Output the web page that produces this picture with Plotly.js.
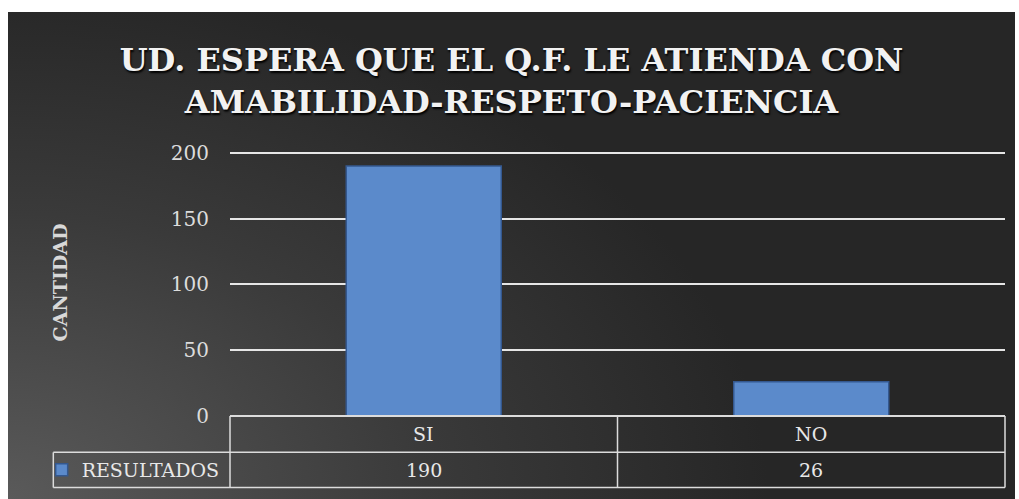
<!DOCTYPE html>
<html>
<head>
<meta charset="utf-8">
<script src="https://cdn.plot.ly/plotly-3.0.1.min.js"></script>
<style>
  html, body { margin: 0; padding: 0; background: #ffffff; }
  #chart {
    position: absolute; left: 8px; top: 12px; width: 1007px; height: 487px;
    background: radial-gradient(ellipse 760px 520px at 0% 100%, #5a5a5a 0%, #3a3a3a 55%, #262626 100%);
  }
</style>
</head>
<body>
<div id="chart"></div>
<script>
const categories = ['SI', 'NO'];
const resultados = [190, 26];
const seriesName = 'RESULTADOS';
const titleLines = ['UD. ESPERA QUE EL Q.F. LE ATIENDA CON', 'AMABILIDAD-RESPETO-PACIENCIA'];
const yAxisTitle = 'CANTIDAD';
const yTickValues = [0, 50, 100, 150, 200];

const FONT = 'DejaVu Serif, Liberation Serif, serif';
const lineColor = '#dcdcdc';

// table geometry (paper coordinates relative to plot area)
const row1Bottom = -0.136;
const row2Bottom = -0.268;
const legendCellLeft = -0.228;

const shapes = [];
const nCat = categories.length;
for (let i = 0; i <= nCat; i++) {
  shapes.push({type: 'line', xref: 'x domain', yref: 'paper', x0: i / nCat, x1: i / nCat,
    y0: 0, y1: row2Bottom, line: {color: lineColor, width: 1.5}});
}
shapes.push({type: 'line', xref: 'paper', yref: 'paper', x0: 0, x1: 1, y0: 0, y1: 0,
  line: {color: lineColor, width: 2}});
shapes.push({type: 'line', xref: 'paper', yref: 'paper', x0: legendCellLeft, x1: 1, y0: row1Bottom, y1: row1Bottom,
  line: {color: lineColor, width: 1.5}});
shapes.push({type: 'line', xref: 'paper', yref: 'paper', x0: legendCellLeft, x1: 1, y0: row2Bottom, y1: row2Bottom,
  line: {color: lineColor, width: 1.5}});
shapes.push({type: 'line', xref: 'paper', yref: 'paper', x0: legendCellLeft, x1: legendCellLeft, y0: row1Bottom, y1: row2Bottom,
  line: {color: lineColor, width: 1.5}});

const annotations = [];
categories.forEach((c, i) => {
  annotations.push({x: c, xref: 'x', y: (0 + row1Bottom) / 2, yref: 'paper', text: c, showarrow: false,
    yanchor: 'middle', font: {family: FONT, size: 19, color: '#e8e8e8'}});
  annotations.push({x: c, xref: 'x', y: (row1Bottom + row2Bottom) / 2, yref: 'paper', text: String(resultados[i]), showarrow: false,
    yanchor: 'middle', font: {family: FONT, size: 19, color: '#e8e8e8'}});
});

const trace = {
  type: 'bar',
  x: categories,
  y: resultados,
  name: seriesName,
  showlegend: true,
  marker: {color: '#5b8acb', line: {color: '#34588f', width: 1.5}},
  hoverinfo: 'x+y'
};

const layout = {
  width: 1007,
  height: 487,
  paper_bgcolor: 'rgba(0,0,0,0)',
  plot_bgcolor: 'rgba(0,0,0,0)',
  margin: {l: 222, r: 10, t: 137, b: 78},
  title: {
    text: titleLines.join('<br>'),
    x: 0.5, xanchor: 'center',
    yref: 'container', y: 0.879, yanchor: 'top',
    font: {family: FONT, size: 32, color: '#f2f2f2', weight: 'bold', shadow: '1px 2px 2px #000000'}
  },
  bargap: 0.6,
  xaxis: {
    type: 'category',
    showticklabels: false,
    showgrid: false,
    zeroline: false,
    showline: false,
    ticks: ''
  },
  yaxis: {
    range: [0, 203],
    tickvals: yTickValues,
    ticks: '',
    ticklabelstandoff: 20,
    showgrid: true,
    gridcolor: '#e6e6e6',
    gridwidth: 2,
    zeroline: false,
    showline: false,
    tickfont: {family: FONT, size: 20, color: '#dcdcdc'},
    automargin: true,
    title: {text: yAxisTitle, standoff: 98, font: {family: FONT, size: 19, color: '#d8d8d8', weight: 'bold'}}
  },
  legend: {
    x: -0.243, xanchor: 'left',
    y: (row1Bottom + row2Bottom) / 2, yanchor: 'middle',
    font: {family: FONT, size: 19, color: '#e8e8e8'},
    bgcolor: 'rgba(0,0,0,0)',
    itemclick: false
  },
  shapes: shapes,
  annotations: annotations,
  showlegend: true
};

Plotly.newPlot('chart', [trace], layout, {displayModeBar: false, staticPlot: true});
</script>
</body>
</html>
